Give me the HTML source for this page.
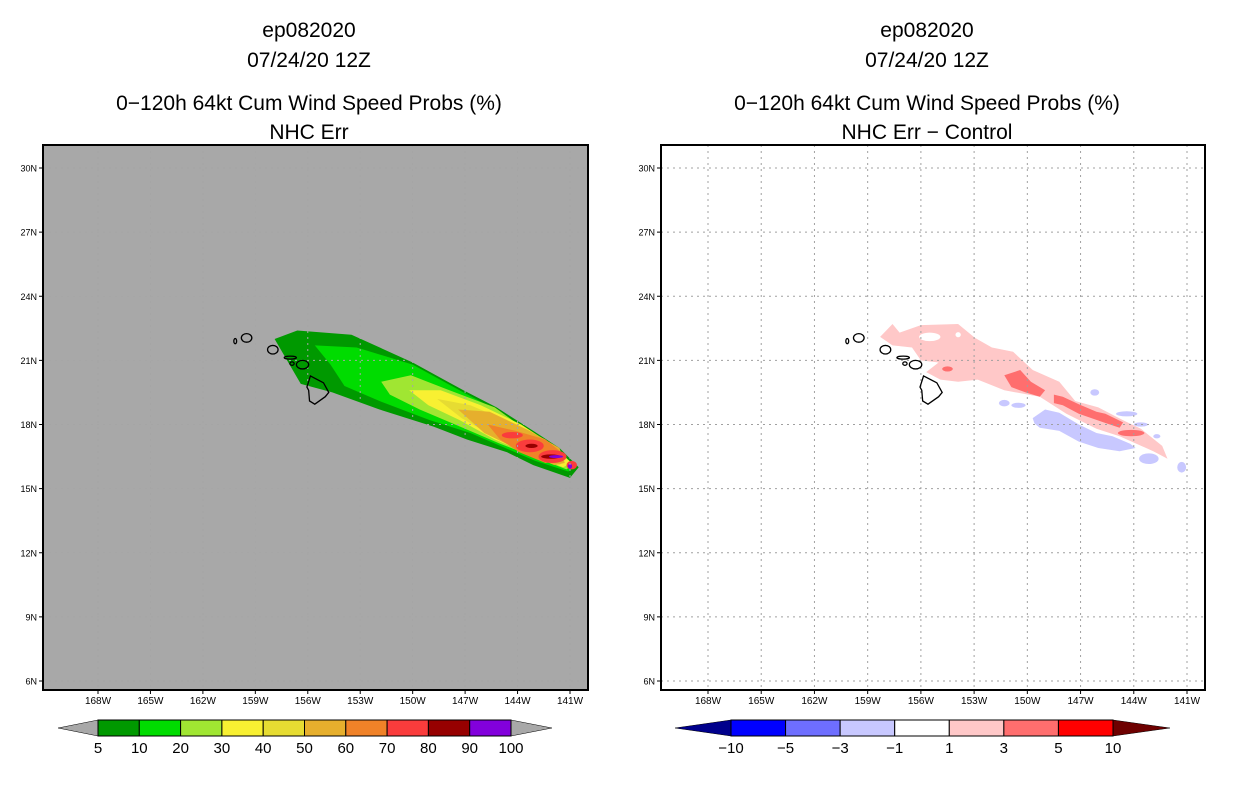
<!DOCTYPE html>
<html><head><meta charset="utf-8"><style>
html,body{margin:0;padding:0;background:#fff;}
svg{display:block;font-family:"Liberation Sans","DejaVu Sans",sans-serif;}
</style></head><body>
<svg id="fig" width="1236" height="800" viewBox="0 0 1236 800"></svg>
<script>
// ---------- data ----------
const lonTicks=[168,165,162,159,156,153,150,147,144,141];
const latTicks=[30,27,24,21,18,15,12,9,6];
const probLevels=[5,10,20,30,40,50,60,70,80,90,100];
const probColors=["#009900","#00dc00","#a0e632","#f8f032","#e6dc32","#e6af2d","#f08228","#fa3c3c","#960000","#8200dc"];
const diffLevels=[-10,-5,-3,-1,1,3,5,10];
const diffColors=["#0000ff","#6e6eff","#c8c8ff","#ffffff","#ffc8c8","#ff6e6e","#ff0000"];
// contour polygons [lonW, lat]
const p5=[[157.9,22.0],[156.6,22.4],[153.5,22.2],[150.0,20.9],[147.1,19.6],[145.2,18.8],[143.1,17.7],[141.6,16.9],[140.5,16.0],[141.0,15.5],[143.1,16.1],[144.6,16.7],[146.9,17.3],[148.8,17.9],[151.9,18.7],[154.6,19.5],[156.4,19.9]];
const p10=[[155.6,21.7],[153.2,21.6],[150.0,20.8],[147.1,19.5],[145.0,18.6],[143.0,17.5],[141.7,16.8],[140.8,16.1],[141.1,15.8],[143.0,16.3],[144.7,16.9],[146.7,17.6],[149.0,18.2],[151.9,19.1],[153.9,19.8],[154.7,20.8]];
const p20=[[151.8,20.0],[150.1,20.3],[147.9,19.6],[145.3,18.8],[143.3,17.6],[141.8,16.9],[140.9,16.1],[141.2,15.9],[143.1,16.5],[145.0,17.1],[147.0,17.8],[149.6,18.7],[151.3,19.4]];
const p30=[[150.2,19.6],[148.4,19.6],[146.1,18.9],[143.8,18.0],[142.1,17.1],[140.9,16.2],[141.4,16.0],[143.3,16.6],[145.3,17.3],[147.3,18.2],[149.1,18.9]];
const p40=[[148.6,19.2],[146.7,18.9],[144.4,18.1],[142.4,17.3],[141.2,16.4],[141.6,16.1],[143.6,16.7],[145.3,17.4],[147.2,18.3]];
const p50=[[147.4,18.7],[145.6,18.6],[143.3,17.7],[141.6,16.9],[141.3,16.2],[141.9,16.1],[143.9,16.8],[145.9,17.6]];
const p60=[[145.7,18.0],[144.1,17.7],[142.4,17.3],[141.5,16.7],[141.4,16.3],[142.4,16.2],[143.9,16.7],[145.0,17.3]];
// blobs [lonW, lat, halfLonDeg, halfLatDeg]
const b70=[[144.3,17.5,0.6,0.15],[143.3,17.0,0.8,0.3],[142.0,16.5,0.8,0.3],[140.9,16.1,0.3,0.2]];
const b80=[[143.2,17.0,0.35,0.1],[142.1,16.5,0.55,0.1]];
const b90=[[141.8,16.5,0.4,0.07],[141.0,16.05,0.12,0.12]];
const dPink=[[158.3,22.1],[157.6,22.7],[157.2,22.3],[156.0,22.65],[153.9,22.7],[152.95,22.05],[152.0,21.6],[150.8,21.4],[149.7,20.55],[148.2,20.0],[147.3,19.1],[146.0,18.8],[144.6,18.2],[143.6,17.8],[142.4,17.0],[142.1,16.4],[142.9,16.75],[144.8,17.45],[146.1,17.8],[147.8,18.5],[149.3,19.3],[151.3,19.6],[152.8,20.1],[153.9,20.0],[154.9,20.1],[155.7,20.45],[155.0,20.9],[156.0,21.0],[156.5,21.6],[157.6,21.7]];
const dHoles=[[155.5,22.1,0.6,0.2],[153.9,22.2,0.15,0.12]];
const dRed1=[[151.3,20.3],[150.4,20.55],[149.8,20.0],[149.0,19.6],[149.3,19.3],[150.1,19.5],[150.9,19.75]];
const dRed2=[[148.5,19.4],[148.0,19.3],[147.1,18.95],[146.1,18.6],[145.6,18.5],[144.6,18.1],[144.8,17.85],[145.7,18.1],[147.1,18.5],[148.0,18.9],[148.5,19.0]];
const dRedB=[[144.15,17.6,0.75,0.15],[154.5,20.6,0.3,0.12]];
const dBlue=[[149.7,18.3],[149.0,18.7],[148.2,18.55],[147.1,18.0],[146.1,17.6],[145.2,17.45],[144.2,17.1],[143.9,16.9],[144.8,16.75],[146.0,16.9],[147.1,17.2],[148.2,17.7],[149.3,17.85],[149.6,18.05]];
const dBlueB=[[143.15,16.4,0.55,0.25],[151.3,19.0,0.3,0.15],[150.5,18.9,0.4,0.12],[146.2,19.5,0.25,0.15],[144.4,18.5,0.6,0.12],[143.6,18.0,0.4,0.1],[142.7,17.45,0.2,0.1],[141.3,16.0,0.25,0.25]];
// islands
const bigIsland=[[155.85,20.27],[155.1,19.95],[154.8,19.5],[155.0,19.3],[155.6,18.95],[155.9,19.1],[155.95,19.6],[156.05,19.75]];
const smallIslands=[[159.5,22.05,0.3,0.2],[160.15,21.9,0.08,0.12],[158.0,21.5,0.3,0.2],[157.0,21.13,0.35,0.07],[156.3,20.8,0.35,0.2],[156.9,20.85,0.12,0.08]];

const NS="http://www.w3.org/2000/svg";
const svg=document.getElementById("fig");
function el(tag,attrs,parent){const e=document.createElementNS(NS,tag);for(const k in attrs)e.setAttribute(k,attrs[k]);(parent||svg).appendChild(e);return e;}

function makePanel(name,left,right,x168,x141,bg){
  const top=145,bottom=690;
  const ppd=(x141-x168)/27;
  const X=lon=>x168+(168-lon)*ppd;
  const Y=lat=>168+(30-lat)*21.375;
  const g=el("g",{});
  
  
  const clipId=name+"clip";
  const cp=el("clipPath",{id:clipId},g);el("rect",{x:left,y:top,width:right-left,height:bottom-top},cp);
  const bgr=el("rect",{x:left,y:top,width:right-left,height:bottom-top,fill:bg},g);
  
  
  const inner=el("g",{"clip-path":"url(#"+clipId+")"},g);
  const poly=(pts,fill,nm)=>{const p=el("polygon",{points:pts.map(q=>X(q[0]).toFixed(1)+","+Y(q[1]).toFixed(1)).join(" "),fill:fill},inner);return p;};
  const blob=(b,fill,nm)=>{const e=el("ellipse",{cx:X(b[0]),cy:Y(b[1]),rx:b[2]*ppd,ry:b[3]*21.375,fill:fill},inner);return e;};
  return {g,inner,X,Y,poly,blob,top,bottom,left,right,ppd};
}
function decorate(P,name,gridColor){
  const {g,inner,X,Y,top,bottom,left,right}=P;
  lonTicks.forEach(l=>{const x=X(l);
    const gl=el("line",{x1:x,x2:x,y1:top,y2:bottom,stroke:gridColor,"stroke-width":1,"stroke-dasharray":"2,4"},inner);
    
    el("line",{x1:x,x2:x,y1:bottom,y2:bottom+4,stroke:"#000"},g);
    const t=el("text",{x:x,y:bottom+14,"font-size":10,"text-anchor":"middle",fill:"#000"},g);t.textContent=l+"W";
    });
  latTicks.forEach(l=>{const y=Y(l);
    const gl=el("line",{x1:left,x2:right,y1:y,y2:y,stroke:gridColor,"stroke-width":1,"stroke-dasharray":"2,4"},inner);
    
    el("line",{x1:left-4,x2:left,y1:y,y2:y,stroke:"#000"},g);
    const t=el("text",{x:left-6,y:y+3.5,"font-size":9,"text-anchor":"end",fill:"#000"},g);t.textContent=l+"N";
    });
  const isl=el("g",{fill:"none",stroke:"#000","stroke-width":1.3},inner);
  
  el("polygon",{points:bigIsland.map(q=>X(q[0])+","+Y(q[1])).join(" ")},isl);
  smallIslands.forEach(b=>el("ellipse",{cx:X(b[0]),cy:Y(b[1]),rx:b[2]*P.ppd,ry:b[3]*21.375},isl));
  const fr=el("rect",{x:left,y:top,width:right-left,height:bottom-top,fill:"none",stroke:"#000","stroke-width":2},g);
  
}
function titles(cx,lines){
  const ys=[37,67,110,139];
  lines.forEach((s,i)=>{const t=el("text",{x:cx,y:ys[i],"font-size":21,"text-anchor":"middle",fill:"#000"});t.textContent=s;
    });
}
function colorbar(name,x0,x1,tipL,tipR,colors,levels,lc,rc){
  const g=el("g",{});
  const y0=720,y1=736,ym=728,w=(x1-x0)/colors.length;
  el("polygon",{points:`${tipL},${ym} ${x0},${y0} ${x0},${y1}`,fill:lc,stroke:"#000","stroke-width":0.5},g);
  el("polygon",{points:`${tipR},${ym} ${x1},${y0} ${x1},${y1}`,fill:rc,stroke:"#000","stroke-width":0.5},g);
  colors.forEach((c,i)=>{const r=el("rect",{x:x0+i*w,y:y0,width:w,height:y1-y0,fill:c,stroke:"#000","stroke-width":1},g);
    });
  levels.forEach((v,i)=>{const t=el("text",{x:x0+i*w,y:753,"font-size":15,"text-anchor":"middle",fill:"#000"},g);t.textContent=String(v).replace("-","\u2212");
    });
}

// left panel
const L=makePanel("left",43,588,98,570,"#a8a8a8");
[[p5,0],[p10,1],[p20,2],[p30,3],[p40,4],[p50,5],[p60,6]].forEach(([p,i])=>L.poly(p,probColors[i],'prob-contour-'+probLevels[i]));
b70.forEach(b=>L.blob(b,probColors[7],'prob-contour-70'));
b80.forEach(b=>L.blob(b,probColors[8],'prob-contour-80'));
b90.forEach(b=>L.blob(b,probColors[9],'prob-contour-90'));
decorate(L,"left","#a5a5a5");
titles(309,["ep082020","07/24/20 12Z","0\u2212120h 64kt Cum Wind Speed Probs (%)","NHC Err"]);
colorbar("left-colorbar",98,511,58,552,probColors,probLevels,"#a8a8a8","#a8a8a8");

// right panel
const R=makePanel("right",661,1205,708,1187,"#ffffff");
R.poly(dPink,diffColors[4],'diff-1-3');
dHoles.forEach(b=>R.blob(b,"#ffffff",'diff-hole'));
R.poly(dRed1,diffColors[5],'diff-3-5');
R.poly(dRed2,diffColors[5],'diff-3-5');
dRedB.forEach(b=>R.blob(b,diffColors[5],'diff-3-5'));
R.poly(dBlue,diffColors[2],'diff-neg1-neg3');
dBlueB.forEach(b=>R.blob(b,diffColors[2],'diff-neg1-neg3'));
decorate(R,"right","#a0a0a0");
titles(927,["ep082020","07/24/20 12Z","0\u2212120h 64kt Cum Wind Speed Probs (%)","NHC Err \u2212 Control"]);
colorbar("right-colorbar",731,1113,675,1170,diffColors,diffLevels,"#00008c","#6e0000");
</script>
</body></html>
